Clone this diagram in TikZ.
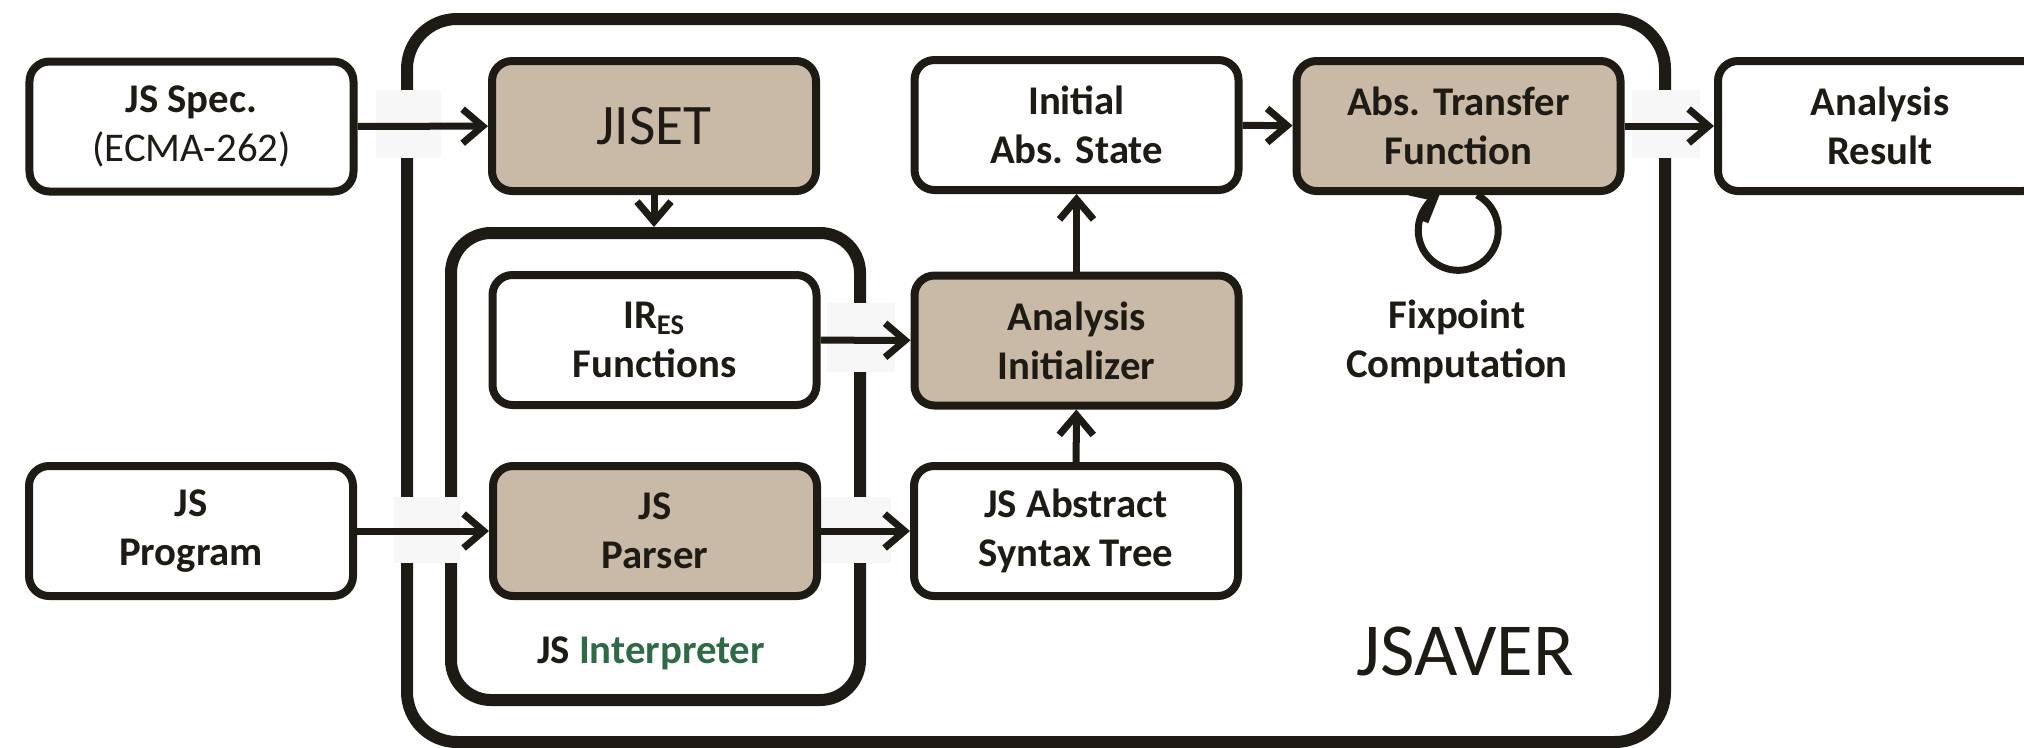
\documentclass[tikz,border=0pt]{standalone}
\usepackage{fontspec}
\setmainfont{Carlito}
\usetikzlibrary{arrows.meta}

\definecolor{boxline}{HTML}{1E1A14}
\definecolor{boxtan}{HTML}{C9B9A7}
\definecolor{interpgreen}{HTML}{2E6A45}

\tikzset{
  block/.style={draw=boxline, fill=white, text=boxline, line width=0.08cm, rounded corners=0.2cm,
    minimum width=3.24cm, minimum height=1.3cm, align=center, font=\fontsize{11.6}{13.9}\selectfont\bfseries},
  shaded/.style={block, fill=boxtan},
  container/.style={draw=boxline, line width=0.12cm, inner sep=0pt},
  flow/.style={draw=boxline, line width=0.07cm, -{Straight Barb[length=2mm,width=3.4mm]}},
  gapfill/.style={fill=black!3},
  label/.style={text=boxline, align=center, font=\fontsize{11.6}{13.9}\selectfont\bfseries},
}

\begin{document}
\begin{tikzpicture}
  \useasboundingbox (0,0) rectangle (20.24,-7.47);
  %containers
  \node[container, rounded corners=0.5cm, minimum width=12.58cm, minimum height=7.23cm] (jsaver) at (10.36,-3.805) {};
  \node[container, rounded corners=0.4cm, minimum width=4.09cm, minimum height=4.67cm] (interp) at (6.555,-4.665) {};
  \node[text=boxline, font=\fontsize{21.3}{25}\selectfont, anchor=base] (jsaverlabel) at (14.65,-6.75) {JSAVER};
  \node[label, anchor=base] (interplabel) at (6.51,-6.63) {JS \textcolor{interpgreen}{Interpreter}};
  %gaps where arrows cross
  \fill[gapfill] (3.76,-0.90) rectangle (4.41,-1.58);
  \fill[gapfill] (3.94,-4.97) rectangle (4.60,-5.63);
  \fill[gapfill] (8.27,-3.03) rectangle (8.95,-3.72);
  \fill[gapfill] (8.21,-4.97) rectangle (8.91,-5.63);
  \fill[gapfill] (16.32,-0.90) rectangle (17.00,-1.58);
  %top row
  \node[block] (spec) at (1.915,-1.265) {JS Spec.\\{\mdseries (ECMA-262)}};
  \node[shaded, font=\fontsize{16.3}{19}\selectfont] (jiset) at (6.54,-1.26) {JISET};
  \node[block] (init) at (10.765,-1.25) {Initial\\Abs. State};
  \node[shaded] (atf) at (14.585,-1.26) {Abs. Transfer\\Function};
  \node[block] (result) at (18.80,-1.26) {Analysis\\Result};
  %middle row
  \node[block] (ires) at (6.545,-3.40) {IR\textsubscript{ES}\\Functions};
  \node[shaded] (ainit) at (10.765,-3.405) {Analysis\\Initializer};
  \node[label] (fixlabel) at (14.57,-3.42) {Fixpoint\\Computation};
  %bottom row
  \node[block] (prog) at (1.91,-5.31) {JS\\Program};
  \node[shaded] (parser) at (6.55,-5.31) {JS\\Parser};
  \node[block] (ast) at (10.76,-5.31) {JS Abstract\\Syntax Tree};
  %arrows
  \draw[flow] (spec) -- (jiset);
  \draw[flow] (jiset) -- (jiset |- interp.north);
  \draw[flow] (ires) -- (ainit);
  \draw[flow] (prog) -- (parser);
  \draw[flow] (parser) -- (ast);
  \draw[flow] (ast) -- (ainit);
  \draw[flow] (ainit) -- (init);
  \draw[flow] (init) -- (atf);
  \draw[flow] (atf) -- (result);
  %fixpoint loop
  \draw[flow] (atf.-75) arc[start angle=62, end angle=-242, radius=0.40cm];
\end{tikzpicture}
\end{document}
